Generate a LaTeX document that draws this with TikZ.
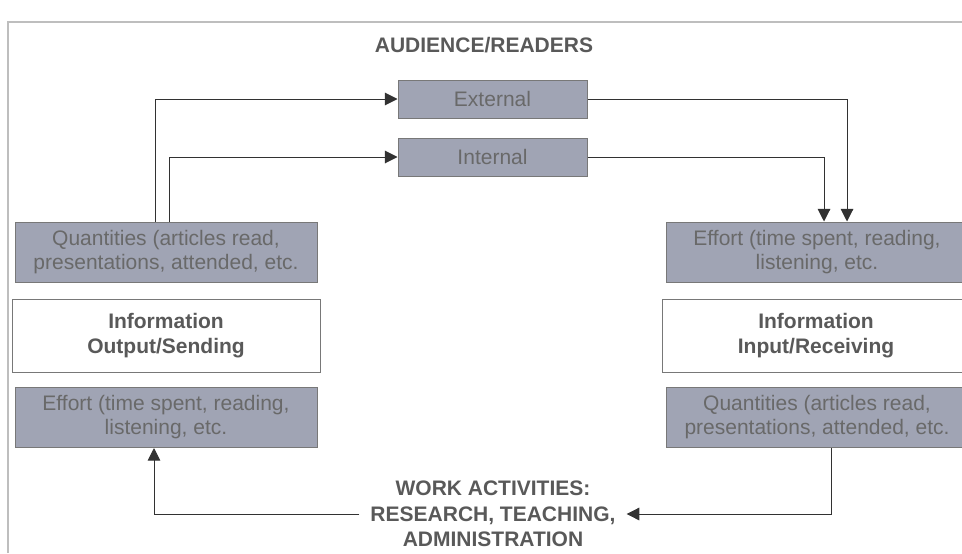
\documentclass[tikz,border=0pt]{standalone}
\usepackage{fontspec}
\setmainfont{Liberation Sans}
\usepackage{tikz}
\usetikzlibrary{arrows.meta,positioning}
\definecolor{boxfill}{RGB}{160,164,180}
\definecolor{boxtext}{RGB}{105,105,105}
\definecolor{headtext}{RGB}{89,89,89}
\definecolor{boxline}{RGB}{120,120,120}
\definecolor{frameline}{RGB}{190,190,190}
\definecolor{linkline}{RGB}{50,50,50}
\tikzset{
    basic/.style     = {draw=boxline, rectangle, align=center, inner sep=0pt, font=\fontsize{15.75}{18}\selectfont},
    grey box/.style  = {basic, fill=boxfill, text=boxtext},
    small box/.style = {grey box, minimum width=141.75pt, minimum height=28.5pt},
    wide box/.style  = {grey box, minimum width=226.5pt, minimum height=45pt},
    info box/.style  = {basic, fill=white, text=headtext, font=\fontsize{15.75}{19}\selectfont\bfseries, minimum width=231pt, minimum height=54.75pt},
    heading/.style   = {text=headtext, align=center, font=\fontsize{15.75}{19}\selectfont\bfseries}
}
\begin{document}
\begin{tikzpicture}[
	x=0.75pt, y=-0.75pt, line width=0.75pt,
	link/.style={->, draw=linkline},
	>={Triangle[length=9.5pt,width=9.5pt]}]
		\clip (0,0) rectangle (962,553);
		\draw[frameline, line width=1.5pt] (8,553) -- (8,22) -- (962,22);
		\node[heading] (audience) at (484,45) {AUDIENCE/READERS};
		\node[small box] (external) at (492.5,99) {External};
		\node[small box] (internal) at (492.5,157) {Internal};
		% sending side
		\node[wide box] (sendqty) at (166,252) {Quantities (articles read,\\presentations, attended, etc.};
		\node[info box] (sending) at (166,335.5) {Information\\Output/Sending};
		\node[wide box] (sendeffort) at (166,417.5) {Effort (time spent, reading,\\listening, etc.};
		% receiving side
		\node[wide box] (recveffort) at (817,252) {Effort (time spent, reading,\\listening, etc.};
		\node[info box] (receiving) at (816,335.5) {Information\\Input/Receiving};
		\node[wide box] (recvqty) at (817,417.5) {Quantities (articles read,\\presentations, attended, etc.};
		\node[heading, inner xsep=8pt] (work) at (493,514) {WORK ACTIVITIES:\\RESEARCH, TEACHING,\\ADMINISTRATION};
		% connectors
		\draw[link] ([xshift=-8.25pt]sendqty.north) |- (external.west);
		\draw[link] ([xshift=2.25pt]sendqty.north) |- (internal.west);
		\draw[link] (external.east) -| ([xshift=22.5pt]recveffort.north);
		\draw[link] (internal.east) -| ([xshift=5.25pt]recveffort.north);
		\draw[link] ([xshift=10.5pt]recvqty.south) |- (work.east);
		\draw[link] (work.west) -| ([xshift=-9pt]sendeffort.south);
	\end{tikzpicture}
\end{document}
